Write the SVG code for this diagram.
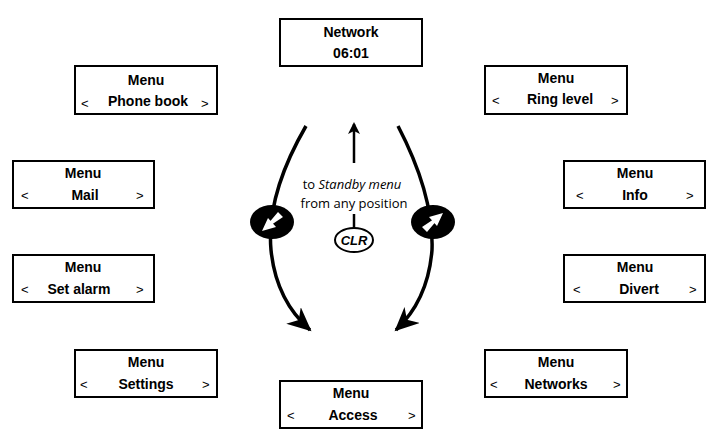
<svg xmlns="http://www.w3.org/2000/svg" width="709" height="440" viewBox="0 0 709 440">
<style>
.b{fill:#fff;stroke:#000;stroke-width:2}
.t{font-family:"Liberation Sans",Arial,sans-serif;font-weight:bold;font-size:14px;text-anchor:middle}
.a{font-family:"Liberation Sans",Arial,sans-serif;font-size:13px}
.c{fill:none;stroke:#000;stroke-width:3.5}
.s{font-family:"Open Sans",sans-serif;font-size:13px;text-anchor:middle}
</style>
<defs>
<marker id="ah" markerWidth="12" markerHeight="12" viewBox="0 0 12 12" refX="10" refY="6" orient="auto" markerUnits="userSpaceOnUse">
<path d="M0,0 L12,6 L0,12 L3,6 Z"/>
</marker>
<marker id="ab" markerWidth="26" markerHeight="22" viewBox="0 0 26 22" refX="22" refY="11" orient="auto" markerUnits="userSpaceOnUse">
<path d="M0,0 L24,11 L0,22 L7,11 Z"/>
</marker>
</defs>
<rect width="709" height="440" fill="#fff"/>
<g id="network"><rect class="b" x="280" y="19" width="142" height="47"/><text class="t" x="351" y="37">Network</text><text class="t" x="351" y="58">06:01</text></g>
<g id="phonebook"><rect class="b" x="75" y="66" width="142" height="48"/><text class="t" x="146" y="85">Menu</text><text class="a" x="81" y="108">&lt;</text><text class="t" x="148" y="106">Phone book</text><text class="a" x="201" y="108">&gt;</text></g>
<g id="ringlevel"><rect class="b" x="485" y="66" width="142" height="48"/><text class="t" x="556" y="83">Menu</text><text class="a" x="492" y="105">&lt;</text><text class="t" x="560" y="104">Ring level</text><text class="a" x="611" y="105">&gt;</text></g>
<g id="mail"><rect class="b" x="13" y="161" width="141" height="47"/><text class="t" x="83" y="178">Menu</text><text class="a" x="21" y="200">&lt;</text><text class="t" x="85" y="200">Mail</text><text class="a" x="136" y="200">&gt;</text></g>
<g id="info"><rect class="b" x="564" y="161" width="141" height="47"/><text class="t" x="635" y="178">Menu</text><text class="a" x="576" y="200">&lt;</text><text class="t" x="635" y="200">Info</text><text class="a" x="686" y="200">&gt;</text></g>
<g id="setalarm"><rect class="b" x="13" y="255" width="141" height="47"/><text class="t" x="83" y="272">Menu</text><text class="a" x="21" y="294">&lt;</text><text class="t" x="79" y="294">Set alarm</text><text class="a" x="136" y="294">&gt;</text></g>
<g id="divert"><rect class="b" x="564" y="255" width="141" height="47"/><text class="t" x="635" y="272">Menu</text><text class="a" x="573" y="294">&lt;</text><text class="t" x="639" y="294">Divert</text><text class="a" x="689" y="294">&gt;</text></g>
<g id="settings"><rect class="b" x="75" y="350" width="142" height="47"/><text class="t" x="146" y="367">Menu</text><text class="a" x="80" y="389">&lt;</text><text class="t" x="146" y="389">Settings</text><text class="a" x="202" y="389">&gt;</text></g>
<g id="networks"><rect class="b" x="485" y="350" width="142" height="47"/><text class="t" x="556" y="367">Menu</text><text class="a" x="490" y="389">&lt;</text><text class="t" x="556" y="389">Networks</text><text class="a" x="613" y="389">&gt;</text></g>
<g id="access"><rect class="b" x="280" y="381" width="142" height="47"/><text class="t" x="351" y="398">Menu</text><text class="a" x="287" y="420">&lt;</text><text class="t" x="353" y="420">Access</text><text class="a" x="408" y="420">&gt;</text></g>
<g id="connectors">
<path class="c" d="M306,126 Q266,195 271,250 Q276,300 310,330" marker-end="url(#ab)"/>
<path class="c" d="M398,126 Q434,195 432,250 Q428,300 396,330" marker-end="url(#ab)"/>
<line x1="354" y1="163" x2="354" y2="124" stroke="#000" stroke-width="2.5" marker-end="url(#ah)"/>
<line x1="354" y1="214" x2="354" y2="228" stroke="#000" stroke-width="2.5"/>
</g>
<g id="leftkey"><ellipse cx="272" cy="222" rx="22" ry="17"/><path d="M262,231 L278,212 L283,217 Z M262,231 L268,218 L276,227 Z" fill="#fff"/></g>
<g id="rightkey"><ellipse cx="433" cy="222" rx="22" ry="17"/><path d="M443,213 L427,232 L422,227 Z M443,213 L437,226 L429,217 Z" fill="#fff"/></g>
<g id="label"><text class="s" x="352" y="189">to <tspan font-style="italic">Standby menu</tspan></text><text class="s" x="354" y="208">from any position</text></g>
<g id="clr"><ellipse cx="354" cy="240" rx="19" ry="12" fill="#fff" stroke="#000" stroke-width="2"/><text x="354" y="245" font-family="Liberation Sans,sans-serif" font-weight="bold" font-style="italic" font-size="13" text-anchor="middle">CLR</text></g>
</svg>
